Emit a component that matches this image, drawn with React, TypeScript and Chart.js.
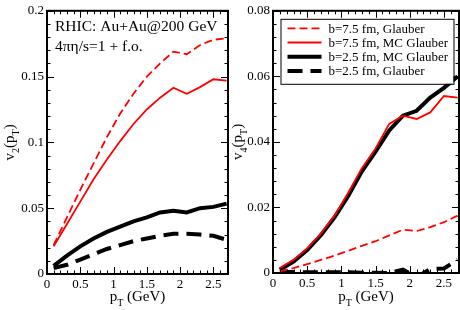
import React, { useEffect, useRef } from "react";
import { Chart, registerables } from "chart.js";
Chart.register(...registerables);

// ---------- data ----------
const pT = [0.1, 0.3, 0.5, 0.7, 0.9, 1.1, 1.3, 1.5, 1.7, 1.9, 2.1, 2.3, 2.5, 2.7];

const v2Glauber75 = [0.022, 0.043, 0.064, 0.084, 0.104, 0.122, 0.137, 0.15, 0.16, 0.169, 0.167, 0.174, 0.178, 0.179];
const v2MC75 = [0.021, 0.038, 0.055, 0.072, 0.087, 0.101, 0.114, 0.125, 0.134, 0.1415, 0.137, 0.142, 0.148, 0.147];
const v2MC25 = [0.0062, 0.014, 0.021, 0.027, 0.032, 0.036, 0.04, 0.043, 0.0468, 0.048, 0.0468, 0.05, 0.051, 0.0535];
const v2Glauber25 = [0.0045, 0.007, 0.011, 0.015, 0.019, 0.022, 0.025, 0.027, 0.029, 0.0305, 0.0305, 0.03, 0.029, 0.026];

const v4Glauber75 = [0.0005, 0.0015, 0.0027, 0.004, 0.0053, 0.0068, 0.0083, 0.0097, 0.0115, 0.0132, 0.0128, 0.014, 0.0155, 0.0175];
const v4MC75 = [0.0015, 0.004, 0.0075, 0.012, 0.0175, 0.0245, 0.032, 0.038, 0.0455, 0.048, 0.047, 0.049, 0.054, 0.0535];
const v4MC25 = [0.001, 0.0035, 0.007, 0.0115, 0.017, 0.0235, 0.031, 0.037, 0.0435, 0.048, 0.0495, 0.0535, 0.0565, 0.06];
const v4Glauber25 = [0.0003, 0.0003, 0.0002, 0.0002, 0.0002, 0.0002, 0.0001, 0.0001, 0.0, 0.001, -0.0012, 0.0012, 0.0014, 0.004];

const seriesLabels = ["b=7.5 fm, Glauber", "b=7.5 fm, MC Glauber", "b=2.5 fm, MC Glauber", "b=2.5 fm, Glauber"];

const xTickValues = [0, 0.5, 1, 1.5, 2, 2.5];
const xTickLabels = ["0", "0.5", "1", "1.5", "2", "2.5"];
const v2TickValues = [0, 0.05, 0.1, 0.15, 0.2];
const v2TickLabels = ["0", "0.05", "0.1", "0.15", "0.2"];
const v4TickValues = [0, 0.02, 0.04, 0.06, 0.08];
const v4TickLabels = ["0", "0.02", "0.04", "0.06", "0.08"];

const annotationLines = ["RHIC: Au+Au@200 GeV", "4\u03c0\u03b7/s=1 + f.o."];

// ---------- styles ----------
const FONT = "'Liberation Serif', 'DejaVu Serif', serif";
const styles = [
  { color: "#ff0000", width: 1.8, dash: [8, 4] },
  { color: "#ff0000", width: 1.8, dash: [] as number[] },
  { color: "#000000", width: 4, dash: [] as number[] },
  { color: "#000000", width: 4, dash: [15, 8] },
];

type Part = { t: string; sub?: boolean };

function drawRich(ctx: CanvasRenderingContext2D, parts: Part[], size: number, subSize: number) {
  let w = 0;
  for (const p of parts) {
    ctx.font = `${p.sub ? subSize : size}px ${FONT}`;
    w += ctx.measureText(p.t).width;
  }
  let x = -w / 2;
  for (const p of parts) {
    ctx.font = `${p.sub ? subSize : size}px ${FONT}`;
    ctx.fillText(p.t, x, p.sub ? size * 0.3 : 0);
    x += ctx.measureText(p.t).width;
  }
}

const framePlugin = {
  id: "frame",
  afterDatasetsDraw(chart: any, _args: any, opts: any) {
    const ctx: CanvasRenderingContext2D = chart.ctx;
    const { left, right, top, bottom } = chart.chartArea;
    const x = chart.scales.x;
    const y = chart.scales.y;
    ctx.save();
    ctx.strokeStyle = "#000";
    ctx.lineWidth = 1;
    const nx = Math.floor(x.max / opts.xMinor + 1e-6);
    for (let i = 0; i <= nx; i++) {
      const px = Math.round(x.getPixelForValue(i * opts.xMinor)) + 0.5;
      const len = i % opts.xRatio === 0 ? 7 : 3.5;
      ctx.beginPath();
      ctx.moveTo(px, bottom);
      ctx.lineTo(px, bottom - len);
      ctx.moveTo(px, top);
      ctx.lineTo(px, top + len);
      ctx.stroke();
    }
    const ny = Math.round(y.max / opts.yMinor);
    for (let i = 0; i <= ny; i++) {
      const py = Math.round(y.getPixelForValue(i * opts.yMinor)) + 0.5;
      const len = i % opts.yRatio === 0 ? 7 : 3.5;
      ctx.beginPath();
      ctx.moveTo(left, py);
      ctx.lineTo(left + len, py);
      ctx.moveTo(right, py);
      ctx.lineTo(right - len, py);
      ctx.stroke();
    }
    ctx.lineWidth = 2;
    ctx.strokeRect(left, top, right - left, bottom - top);

    ctx.fillStyle = "#000";
    ctx.textBaseline = "alphabetic";
    ctx.textAlign = "left";
    ctx.save();
    ctx.translate((left + right) / 2, opts.xTitleY);
    drawRich(ctx, [{ t: "p" }, { t: "T", sub: true }, { t: " (GeV)" }], 15, 10);
    ctx.restore();
    ctx.save();
    ctx.translate(opts.yTitleX, (top + bottom) / 2);
    ctx.rotate(-Math.PI / 2);
    drawRich(ctx, [{ t: "v" }, { t: opts.yIndex, sub: true }, { t: "(p" }, { t: "T", sub: true }, { t: ")" }], 15, 10);
    ctx.restore();

    if (opts.annotation) {
      ctx.font = `15.5px ${FONT}`;
      ctx.textAlign = "left";
      ctx.fillText(opts.annotation[0], left + 8, top + 20);
      ctx.fillText(opts.annotation[1], left + 8, top + 40);
    }

    if (opts.legend) {
      const bx = left + 7.5;
      const by = top + 8;
      const bw = 173;
      const bh = 65;
      ctx.fillStyle = "#fff";
      ctx.fillRect(bx, by, bw, bh);
      ctx.lineWidth = 1;
      ctx.strokeStyle = "#000";
      ctx.strokeRect(bx + 0.5, by + 0.5, bw, bh);
      ctx.font = `13px ${FONT}`;
      ctx.textBaseline = "middle";
      chart.data.datasets.forEach((ds: any, i: number) => {
        const ry = by + 9.5 + i * 14.2;
        ctx.save();
        ctx.strokeStyle = ds.borderColor;
        ctx.lineWidth = ds.borderWidth;
        ctx.setLineDash(ds.borderDash || []);
        ctx.beginPath();
        ctx.moveTo(bx + 7, ry);
        ctx.lineTo(bx + 41, ry);
        ctx.stroke();
        ctx.restore();
        ctx.fillStyle = "#000";
        ctx.fillText(ds.label, bx + 48, ry + 1);
      });
    }
    ctx.restore();
  },
};

function makeConfig(series: number[][], yMax: number, yTicks: number[], yLabels: string[], yWidth: number, padRight: number, xHeight: number, frameOpts: any) {
  return {
    type: "line" as const,
    data: {
      datasets: series.map((vals, i) => ({
        label: seriesLabels[i],
        data: pT.map((p, k) => ({ x: p, y: vals[k] })),
        borderColor: styles[i].color,
        borderWidth: styles[i].width,
        borderDash: styles[i].dash,
        pointRadius: 0,
        tension: 0,
        fill: false,
        clip: 0,
      })),
    },
    options: {
      responsive: false,
      animation: false as const,
      devicePixelRatio: 1,
      layout: { padding: { left: 0, right: padRight, top: 7, bottom: 0 } },
      plugins: { legend: { display: false }, tooltip: { enabled: false }, frame: frameOpts },
      scales: {
        x: {
          type: "linear" as const,
          min: 0,
          max: 2.72,
          grid: { display: false, drawTicks: false },
          border: { display: false },
          afterBuildTicks: (s: any) => {
            s.ticks = xTickValues.map((v) => ({ value: v }));
          },
          afterFit: (s: any) => {
            s.height = xHeight;
          },
          ticks: {
            padding: 3,
            color: "#000",
            font: { family: FONT, size: 13 },
            maxRotation: 0,
            callback: (v: number) => xTickLabels[xTickValues.findIndex((t) => Math.abs(t - v) < 1e-9)] ?? "",
          },
        },
        y: {
          type: "linear" as const,
          min: 0,
          max: yMax,
          grid: { display: false, drawTicks: false },
          border: { display: false },
          afterBuildTicks: (s: any) => {
            s.ticks = yTicks.map((v) => ({ value: v }));
          },
          afterFit: (s: any) => {
            s.width = yWidth;
          },
          ticks: {
            padding: 3,
            color: "#000",
            font: { family: FONT, size: 13 },
            callback: (v: number) => yLabels[yTicks.findIndex((t) => Math.abs(t - v) < 1e-9)] ?? "",
          },
        },
      },
    },
    plugins: [framePlugin],
  };
}

export default function App() {
  const leftRef = useRef<HTMLCanvasElement>(null);
  const rightRef = useRef<HTMLCanvasElement>(null);
  useEffect(() => {
    const c1 = new Chart(
      leftRef.current!,
      makeConfig([v2Glauber75, v2MC75, v2MC25, v2Glauber25], 0.2, v2TickValues, v2TickLabels, 47, 2, 36, {
        xMinor: 0.1, xRatio: 5, yMinor: 0.01, yRatio: 5, xTitleY: 301, yTitleX: 14, yIndex: "2", annotation: annotationLines,
      }) as any
    );
    const c2 = new Chart(
      rightRef.current!,
      makeConfig([v4Glauber75, v4MC75, v4MC25, v4Glauber25], 0.08, v4TickValues, v4TickLabels, 43, 1, 37, {
        xMinor: 0.1, xRatio: 5, yMinor: 0.004, yRatio: 5, xTitleY: 301, yTitleX: 12, yIndex: "4", legend: true,
      }) as any
    );
    return () => {
      c1.destroy();
      c2.destroy();
    };
  }, []);
  return (
    <div style={{ position: "absolute", left: 0, top: 0, width: 460, height: 310, background: "#fff", display: "flex" }}>
      <canvas ref={leftRef} width={230} height={310} style={{ width: 230, height: 310, display: "block" }} />
      <canvas ref={rightRef} width={230} height={310} style={{ width: 230, height: 310, display: "block" }} />
    </div>
  );
}
